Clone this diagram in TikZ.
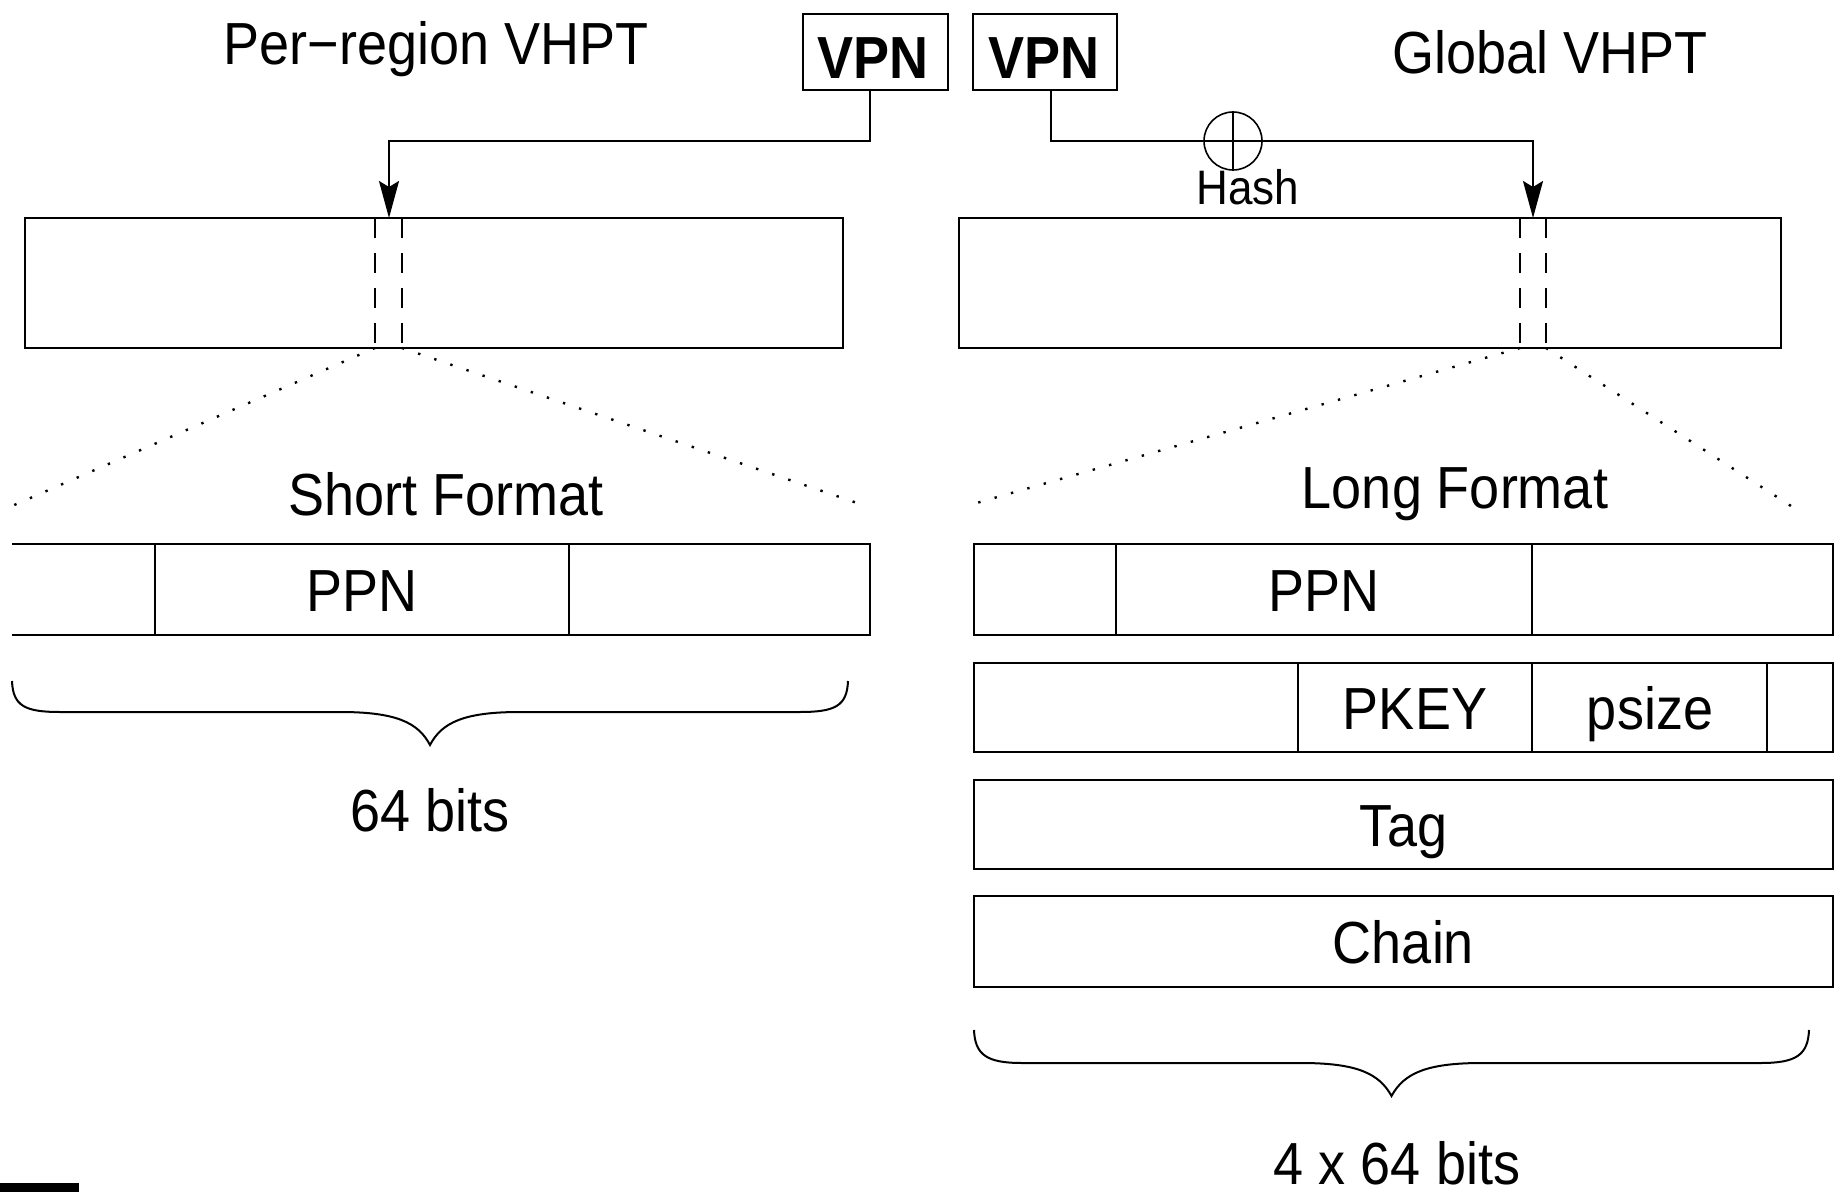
\documentclass[tikz,border=0pt]{standalone}
\usepackage{fontspec}
\setmainfont{Liberation Sans}
\usepackage{graphicx}
\usetikzlibrary{arrows.meta}
\newcommand\vs[1]{\scalebox{1}[1.1]{#1}}
\begin{document}
\begin{tikzpicture}[x=0.5pt,y=-0.5pt,
  lw/.style={line width=1.1pt},
  box/.style={draw,line width=1.1pt,inner sep=0pt},
  lbl/.style={anchor=base,inner sep=0pt,font=\fontsize{27}{30}\selectfont},
  arr/.style={line width=1.1pt,-{Stealth[length=18.5pt,width=10pt,inset=3pt]}},
  slotline/.style={line width=1.1pt,dash pattern=on 10pt off 7.5pt},
  dotline/.style={line width=1.2pt,dash pattern=on 1.2pt off 7.3pt},
  bracestyle/.style={line width=1pt}]
\useasboundingbox (0,0) rectangle (1836,1192);
\fill[black] (0,1183) rectangle (79,1192);

% titles
\node[lbl] (titleL) at (436,65) {\vs{Per−region VHPT}};
\node[lbl] (titleR) at (1550,74) {\vs{Global VHPT}};

% VPN boxes
\node[box,minimum width=72.5pt,minimum height=38pt] (vpn1) at (875.5,52) {};
\node[lbl,font=\fontsize{27}{30}\selectfont\bfseries] (vpn1t) at (873,79) {\vs{VPN}};
\node[box,minimum width=72pt,minimum height=38pt] (vpn2) at (1045,52) {};
\node[lbl,font=\fontsize{27}{30}\selectfont\bfseries] (vpn2t) at (1044,79) {\vs{VPN}};

% tables
\node[box,minimum width=409pt,minimum height=65pt] (tabL) at (434,283) {};
\node[box,minimum width=411pt,minimum height=65pt] (tabR) at (1370,283) {};

% connectors
\coordinate (slotL) at (389,218);
\coordinate (bendL) at (389,141);
\draw[arr] ([xshift=-2.75pt]vpn1.south) |- (bendL) -- (slotL);
\node[draw,circle,minimum size=29pt,inner sep=0pt,line width=0.8pt] (hash) at (1233,141) {};
\coordinate (slotR) at (1533,218);
\coordinate (bendR) at (1533,141);
\draw[arr] ([xshift=3pt]vpn2.south) |- (bendR) -- (slotR);
\draw[line width=0.8pt] (hash.north) -- (hash.south);
\node[lbl,font=\fontsize{22}{26}\selectfont] (hashlbl) at (1248,205) {\vs{Hash}};

% slot lines
\draw[slotline] (375,218) -- (375,348);
\draw[slotline] (402,218) -- (402,348);
\draw[slotline] (1520,218) -- (1520,348);
\draw[slotline] (1546,218) -- (1546,348);

% dotted expansion lines
\draw[dotline] (375,348) -- (12,506);
\draw[dotline] (402,348) -- (866,506);
\draw[dotline] (1520,348) -- (966,506);
\draw[dotline] (1546,348) -- (1791,506);

% format titles
\node[lbl] (shortf) at (446,516) {\vs{Short Format}};
\node[lbl] (longf) at (1455,508) {\vs{Long Format}};

% short format row
\draw[lw] (12,544) -- (870,544) -- (870,635) -- (12,635);
\draw[lw] (155,544) -- (155,635);
\draw[lw] (569,544) -- (569,635);
\node[lbl] (ppnS) at (362,611) {\vs{PPN}};

% long format rows
\draw[lw] (974,544) rectangle (1833,635);
\draw[lw] (1116,544) -- (1116,635);
\draw[lw] (1532,544) -- (1532,635);
\node[lbl] (ppnL) at (1324,611) {\vs{PPN}};

\draw[lw] (974,663) rectangle (1833,752);
\draw[lw] (1298,663) -- (1298,752);
\draw[lw] (1532,663) -- (1532,752);
\draw[lw] (1767,663) -- (1767,752);
\node[lbl] (pkey) at (1415,729) {\vs{PKEY}};
\node[lbl] (psize) at (1650,729) {\vs{psize}};

\draw[lw] (974,780) rectangle (1833,869);
\node[lbl] (tag) at (1403.5,846) {\vs{Tag}};

\draw[lw] (974,896) rectangle (1833,987);
\node[lbl] (chain) at (1403.5,963) {\vs{Chain}};

% braces
\draw[bracestyle] (12,681) .. controls (13,706) and (25,712) .. (60,712) -- (340,712)
  .. controls (395,712) and (418,722) .. (430,745)
  .. controls (442,722) and (465,712) .. (520,712) -- (800,712)
  .. controls (835,712) and (847,706) .. (848,681);
\node[lbl] (bitsS) at (430,831) {\vs{64 bits}};

\draw[bracestyle] (974,1030) .. controls (975,1055) and (987,1063) .. (1022,1063) -- (1301,1063)
  .. controls (1356,1063) and (1379,1073) .. (1391.5,1096)
  .. controls (1404,1073) and (1427,1063) .. (1482,1063) -- (1761,1063)
  .. controls (1796,1063) and (1808,1055) .. (1809,1030);
\node[lbl] (bitsL) at (1397,1184) {\vs{4 x 64 bits}};
\end{tikzpicture}
\end{document}
